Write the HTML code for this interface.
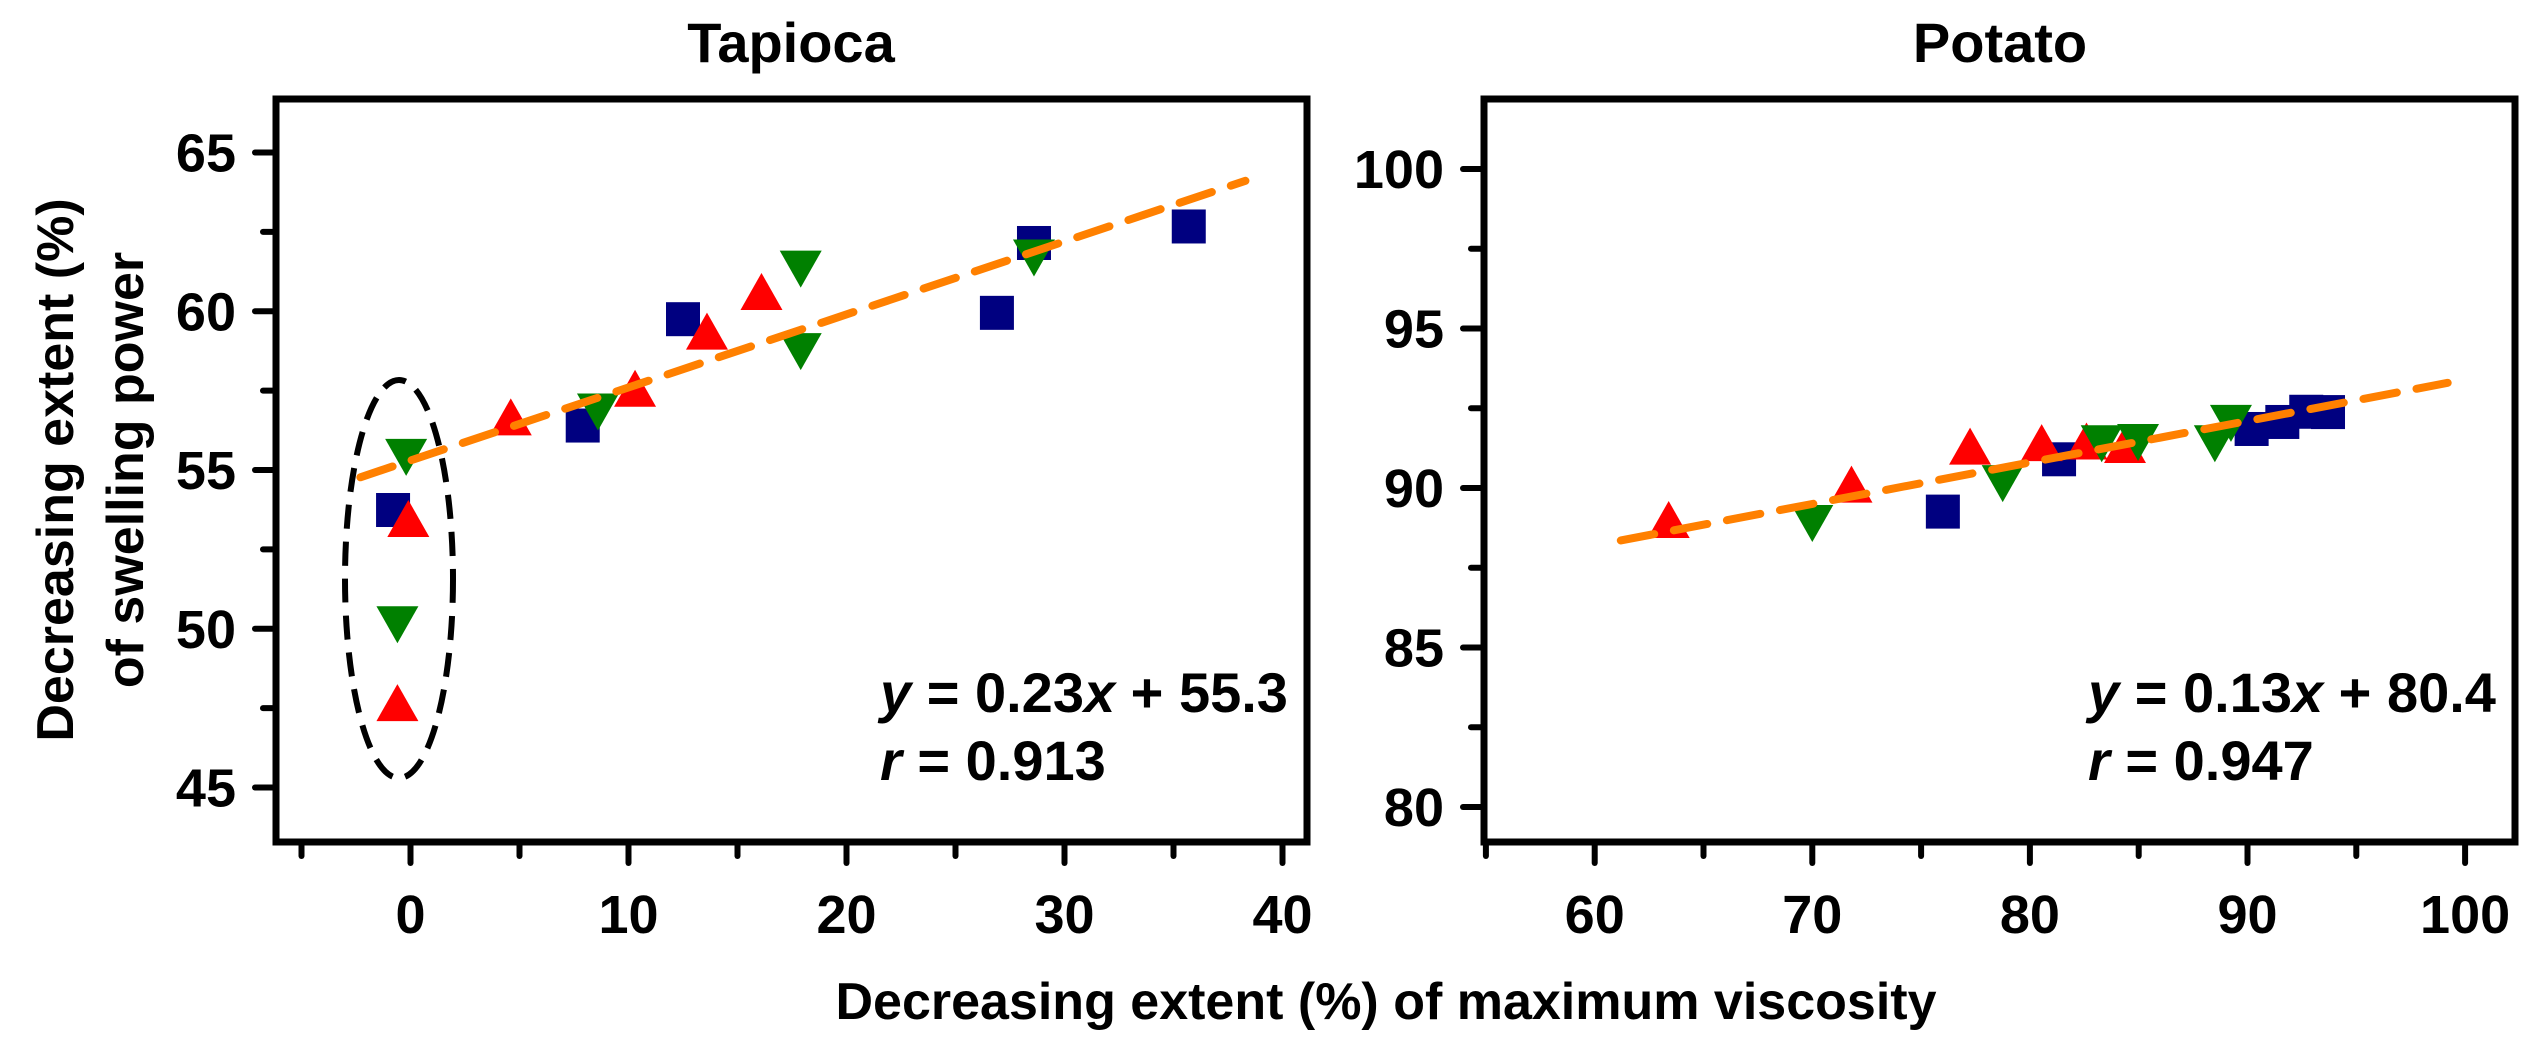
<!DOCTYPE html>
<html>
<head>
<meta charset="utf-8">
<style>
  html,body{margin:0;padding:0;background:#fff;}
  svg{display:block;}
  text{font-family:"Liberation Sans",Arial,sans-serif;font-weight:bold;fill:#000;}
</style>
</head>
<body>
<svg id="chart" width="2541" height="1047" viewBox="0 0 2541 1047" xmlns="http://www.w3.org/2000/svg">
  <text x="791" y="62" font-size="56" text-anchor="middle">Tapioca</text>
  <text x="2000" y="62" font-size="56" text-anchor="middle">Potato</text>
  <g>
    <text transform="translate(73,470) rotate(-90)" font-size="52" text-anchor="middle">Decreasing extent (%)</text>
    <text transform="translate(143,470) rotate(-90)" font-size="52" text-anchor="middle">of swelling power</text>
  </g>
  <text x="1386" y="1019" font-size="52" text-anchor="middle">Decreasing extent (%) of maximum viscosity</text>

  <text x="880" y="712" font-size="56"><tspan font-style="italic">y</tspan> = 0.23<tspan font-style="italic">x</tspan> + 55.3</text>
  <text x="880" y="780" font-size="56"><tspan font-style="italic">r</tspan> = 0.913</text>
  <text x="2088" y="712" font-size="56"><tspan font-style="italic">y</tspan> = 0.13<tspan font-style="italic">x</tspan> + 80.4</text>
  <text x="2088" y="780" font-size="56"><tspan font-style="italic">r</tspan> = 0.947</text>

  <g id="left"></g>
  <g id="right"></g>
</svg>
<script>
// ---------- Tapioca data ----------
const tapSquareX = [-0.8, 7.9, 12.5, 26.9, 28.6, 35.7];
const tapSquareY = [53.74, 56.4, 59.75, 59.95, 62.15, 62.67];
const tapUpX = [-0.1, -0.6, 4.6, 10.3, 13.6, 16.1];
const tapUpY = [53.3, 47.5, 56.5, 57.4, 59.2, 60.45];
const tapDownX = [-0.2, -0.6, 8.6, 17.9, 17.9, 28.6];
const tapDownY = [55.57, 50.3, 57.0, 61.5, 58.9, 61.85];
const tapFit = [0.23, 55.3];
const tapFitRange = [-2.3, 38.3];
const tapXTicks = [-5, 0, 5, 10, 15, 20, 25, 30, 35, 40];
const tapXLabels = [0, 10, 20, 30, 40];
const tapYTicks = [45, 47.5, 50, 52.5, 55, 57.5, 60, 62.5, 65];
const tapYLabels = [45, 50, 55, 60, 65];

// ---------- Potato data ----------
const potSquareX = [76.0, 81.34, 90.19, 91.6, 92.7, 93.7];
const potSquareY = [89.26, 90.9, 91.85, 92.07, 92.39, 92.38];
const potUpX = [63.4, 71.8, 77.25, 80.54, 82.6, 84.37];
const potUpY = [88.84, 89.95, 91.14, 91.25, 91.3, 91.19];
const potDownX = [70.0, 78.75, 83.3, 84.97, 88.5, 89.24];
const potDownY = [89.06, 90.31, 91.56, 91.6, 91.56, 92.2];
const potFit = [0.13, 80.4];
const potFitRange = [61.2, 99.2];
const potXTicks = [55, 60, 65, 70, 75, 80, 85, 90, 95, 100];
const potXLabels = [60, 70, 80, 90, 100];
const potYTicks = [80, 82.5, 85, 87.5, 90, 92.5, 95, 97.5, 100];
const potYLabels = [80, 85, 90, 95, 100];

const NS = "http://www.w3.org/2000/svg";
function mk(tag, attrs, parent){
  const e = document.createElementNS(NS, tag);
  for (const k in attrs) e.setAttribute(k, attrs[k]);
  parent.appendChild(e);
  return e;
}

function drawPanel(g, cfg){
  const X = v => cfg.x0 + (v - cfg.xv0) * cfg.xs;
  const Y = v => cfg.y0 - (v - cfg.yv0) * cfg.ys;
  cfg.xTicks.forEach(t => {
    const major = cfg.xLabels.indexOf(t) >= 0;
    const l = mk("line", {x1:X(t), x2:X(t), y1:cfg.bottom, y2:cfg.bottom + (major?21:14), stroke:"#000", "stroke-width":6, "stroke-linecap":"round"}, g);
    
    
  });
  cfg.xLabels.forEach(t => {
    const tx = mk("text", {x:X(t), y:cfg.bottom + 91, "font-size":54, "text-anchor":"middle"}, g);
    tx.textContent = t;
    
    
  });
  cfg.yTicks.forEach(t => {
    const major = cfg.yLabels.indexOf(t) >= 0;
    const l = mk("line", {x1:cfg.left, x2:cfg.left - (major?21:13), y1:Y(t), y2:Y(t), stroke:"#000", "stroke-width":6, "stroke-linecap":"round"}, g);
    
    
  });
  cfg.yLabels.forEach(t => {
    const tx = mk("text", {x:cfg.left - 40, y:Y(t) + 19, "font-size":54, "text-anchor":"end"}, g);
    tx.textContent = t;
    
    
  });
  const fr = mk("rect", {x:cfg.left, y:cfg.top, width:cfg.right-cfg.left, height:cfg.bottom-cfg.top, fill:"none", stroke:"#000", "stroke-width":7}, g);
  
  

  cfg.sqX.forEach((v,i) => {
    const s = mk("rect", {x:X(v)-17, y:Y(cfg.sqY[i])-17, width:34, height:34, fill:"#000080"}, g);
    
    
  });
  cfg.upX.forEach((v,i) => {
    const cx = X(v), cy = Y(cfg.upY[i]);
    const p = mk("polygon", {points:`${cx-21},${cy+13} ${cx+21},${cy+13} ${cx},${cy-24}`, fill:"#ff0000"}, g);
    
    
  });
  cfg.dnX.forEach((v,i) => {
    const cx = X(v), cy = Y(cfg.dnY[i]);
    const p = mk("polygon", {points:`${cx-21},${cy-13} ${cx+21},${cy-13} ${cx},${cy+24}`, fill:"#008000"}, g);
    
    
  });
  const a = cfg.fitRange[0], b = cfg.fitRange[1];
  const fl = mk("line", {x1:X(a), y1:Y(cfg.fit[0]*a+cfg.fit[1]), x2:X(b), y2:Y(cfg.fit[0]*b+cfg.fit[1]), stroke:"#ff8000", "stroke-width":8, "stroke-dasharray":"34 20", "stroke-linecap":"round"}, g);
  
  
}

drawPanel(document.getElementById("left"), {
  left:276, right:1307, top:99, bottom:842,
  x0:410.5, xv0:0, xs:21.8, y0:787.5, yv0:45, ys:31.75,
  xTicks:tapXTicks, xLabels:tapXLabels, yTicks:tapYTicks, yLabels:tapYLabels,
  sqX:tapSquareX, sqY:tapSquareY, upX:tapUpX, upY:tapUpY, dnX:tapDownX, dnY:tapDownY,
  fit:tapFit, fitRange:tapFitRange
});
drawPanel(document.getElementById("right"), {
  left:1484, right:2515, top:99, bottom:842,
  x0:1594.7, xv0:60, xs:21.76, y0:807, yv0:80, ys:31.9,
  xTicks:potXTicks, xLabels:potXLabels, yTicks:potYTicks, yLabels:potYLabels,
  sqX:potSquareX, sqY:potSquareY, upX:potUpX, upY:potUpY, dnX:potDownX, dnY:potDownY,
  fit:potFit, fitRange:potFitRange
});

const ell = mk("ellipse", {cx:399, cy:579, rx:54, ry:199, fill:"none", stroke:"#000", "stroke-width":6, "stroke-dasharray":"24 13"}, document.getElementById("left"));


</script>
</body>
</html>
